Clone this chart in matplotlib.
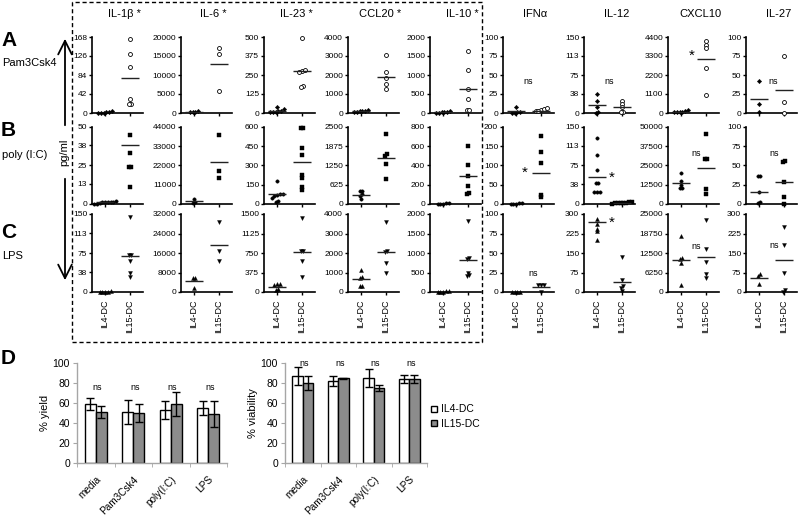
import numpy as np
import matplotlib.pyplot as plt
from matplotlib.patches import Rectangle, FancyArrowPatch
from matplotlib.lines import Line2D

plt.rcParams['font.family'] = ['Liberation Sans', 'DejaVu Sans']

cytokines = ['IL-1β *', 'IL-6 *', 'IL-23 *', 'CCL20 *', 'IL-10 *', 'IFNα', 'IL-12', 'CXCL10', 'IL-27']
groups = ['IL4-DC', 'IL15-DC']
stimuli = ['Pam3Csk4', 'poly (I:C)', 'LPS']

# row A - Pam3Csk4
a_ticks = [[0, 42, 84, 126, 168], [0, 5000, 10000, 15000, 20000], [0, 125, 250, 375, 500],
           [0, 1000, 2000, 3000, 4000], [0, 500, 1000, 1500, 2000], [0, 25, 50, 75, 100],
           [0, 38, 75, 113, 150], [0, 1100, 2200, 3300, 4400], [0, 25, 50, 75, 100]]
a_il4 = [[2, 0, 3, 1, 4, 1], [500, 300, 200, 300], [25, 40, 12, 8, 5, 5, 10], [150, 100, 50, 60, 80, 100],
         [20, 10, 30, 50, 20, 10], [8, 1, 0, 0, 1], [38, 23, 12, 0, 1], [150, 100, 50, 50, 30, 40], [42, 12, 1]]
a_il15 = [[163, 131, 101, 31, 20, 20], [17100, 15600, 5800], [493, 275, 267, 280, 180, 170],
          [3040, 2140, 1860, 1550, 1240], [1640, 1140, 630, 370, 70, 90], [4, 3, 3, 5, 7],
          [24, 18, 12, 2, 1], [4150, 3950, 3750, 2600, 1020], [75, 14, 0]]
a_line4 = [1, 300, 11, 90, 20, 2, 15, 70, 19]
a_line15 = [78, 12800, 278, 1910, 640, 3, 11, 3130, 30]

# row B - poly (I:C)
b_ticks = [[0, 13, 25, 38, 50], [0, 11000, 22000, 33000, 44000], [0, 150, 300, 450, 600],
           [0, 625, 1250, 1875, 2500], [0, 200, 400, 600, 800], [0, 50, 100, 150, 200],
           [0, 38, 75, 113, 150], [0, 12500, 25000, 37500, 50000], [0, 25, 50, 75, 100]]
b_il4 = [[2, 1.5, 1, 0.5, 0, 0, 1, 1.5, 1], [2600, 800, 1000], [178, 80, 72, 78, 60, 48, 26, 12],
         [420, 420, 310, 260, 150], [5, 10, 0, 8, 3], [2, 0, 1, 3, 0], [129, 95, 66, 41, 41, 23, 23, 23],
         [20000, 15000, 12500, 10500, 10500], [36, 36, 16, 2, 1]]
b_il15 = [[45, 33, 24, 24, 11], [39600, 18800, 14600], [592, 592, 440, 380, 225, 204, 134, 109],
          [2260, 1620, 1560, 1290, 800], [600, 410, 288, 182, 112, 105], [176, 135, 107, 24, 18],
          [3, 2, 1, 0, 2, 1, 3, 2], [45700, 29500, 28900, 9700, 6250], [56, 55, 29, 9.5, 0]]
b_line4 = [1, 1700, 75, 290, 4, 1, 53, 13400, 16]
b_line15 = [38, 24100, 328, 1500, 288, 80, 1, 23700, 28]

# row C - LPS
c_ticks = [[0, 38, 75, 113, 150], [0, 8000, 16000, 24000, 32000], [0, 375, 750, 1125, 1500],
           [0, 1000, 2000, 3000, 4000], [0, 500, 1000, 1500, 2000], [0, 25, 50, 75, 100],
           [0, 75, 150, 225, 300], [0, 6250, 12500, 18750, 25000], [0, 75, 150, 225, 300]]
c_il4 = [[0, 0, 0, 1, 0], [5900, 5600, 1700], [150, 145, 130, 35, 50], [1150, 750, 700, 320, 320],
         [20, 10, 0, 30, 10], [0, 0, 0, 0], [282, 262, 242, 233, 201], [18000, 10800, 10600, 9300, 2200],
         [68, 62, 29]]
c_il15 = [[145, 72, 72, 59, 37, 29], [28900, 16800, 12600], [1420, 786, 780, 603, 288],
          [3580, 2100, 2040, 1470, 1000], [1810, 865, 847, 498, 437, 410], [9, 9, 9, 0],
          [135, 47, 22, 15, 3], [23200, 13900, 9600, 5800, 4500], [250, 180, 75, 7, 0]]
c_line4 = [0, 4470, 96, 680, 10, 0, 268, 10300, 52]
c_line15 = [69, 19100, 770, 2040, 830, 6, 37, 11200, 125]

# significance marks (row, column, text, x, y)
notes = [(0, 5, 'ns', 0.5, 42), (0, 6, 'ns', 0.5, 62), (0, 7, '*', 0.42, 3300), (0, 8, 'ns', 0.55, 41),
         (1, 5, '*', 0.35, 80), (1, 6, '*', 0.58, 52), (1, 7, 'ns', 0.6, 33000), (1, 8, 'ns', 0.6, 66),
         (2, 5, 'ns', 0.68, 24), (2, 6, '*', 0.58, 266), (2, 7, 'ns', 0.62, 14700), (2, 8, 'ns', 0.6, 180)]

# panel D
conditions = ['media', 'Pam3Csk4', 'poly(I:C)', 'LPS']
yield_il4 = [59, 51, 53, 55]
yield_il4_err = [6, 12, 9, 7]
yield_il15 = [51, 50, 59, 49]
yield_il15_err = [6, 9, 12, 13]
viab_il4 = [87, 82, 85, 84]
viab_il4_err = [9, 5, 9, 4]
viab_il15 = [80, 85, 75, 84]
viab_il15_err = [7, 0.5, 3, 4]

W, H = 800, 520
fig = plt.figure(figsize=(8, 5.2), dpi=100)


def fx(px):
    return px / W


def fy(py):
    return 1 - py / H


def spread(vals, ymax, step=0.11):
    vals = np.asarray(vals, float)
    order = np.argsort(vals)
    xs = np.zeros(len(vals))
    thr = 0.03 * ymax
    clusters = []
    cur = [order[0]]
    for i in order[1:]:
        if vals[i] - vals[cur[-1]] < thr:
            cur.append(i)
        else:
            clusters.append(cur)
            cur = [i]
    clusters.append(cur)
    for cl in clusters:
        n = len(cl)
        for k, i in enumerate(cl):
            xs[i] = (k - (n - 1) / 2) * step
    return xs


lefts = [92, 181, 264, 348, 430, 503, 584, 668, 746]
aw = 51
rows_px = [(37, 113), (127, 204), (214, 292)]
row_data = [(a_ticks, a_il4, a_il15, a_line4, a_line15),
            (b_ticks, b_il4, b_il15, b_line4, b_line15),
            (c_ticks, c_il4, c_il15, c_line4, c_line15)]
# marker style per row: (il4 marker, il4 fill, il15 marker, il15 fill)
styles = [('D', 'k', 'o', 'white'), ('o', 'k', 's', 'k'), ('^', 'k', 'v', 'k')]
sizes = [(5, 8), (6, 7), (8, 8)]

axes = {}
for r in range(3):
    top, zero = rows_px[r]
    ticks, il4, il15, line4, line15 = row_data[r]
    for c in range(9):
        ax = fig.add_axes([fx(lefts[c]), fy(zero), fx(aw), (zero - top) / H])
        axes[(r, c)] = ax
        ymax = ticks[c][-1]
        for pos, vals, ln, (mk, fc), sz in [(0, il4[c], line4[c], styles[r][0:2], sizes[r][0]),
                                            (1, il15[c], line15[c], styles[r][2:4], sizes[r][1])]:
            xs = pos + spread(vals, ymax)
            ax.scatter(xs, vals, marker=mk, s=sz, facecolor=fc, edgecolor='k',
                       linewidth=0.6 if fc == 'white' else 0.3, clip_on=False, zorder=3)
            ax.hlines(ln, pos - 0.36, pos + 0.36, color='#222222', lw=1.0, zorder=4)
        ax.set_xlim(-0.52, 1.52)
        ax.set_ylim(0, ymax)
        ax.set_yticks(ticks[c])
        ax.set_xticks([0, 1])
        if r == 2:
            ax.set_xticklabels(groups, rotation=90, fontsize=6.5)
        else:
            ax.set_xticklabels([])
        ax.tick_params(axis='y', labelsize=6, length=2.5, width=1, pad=1)
        ax.tick_params(axis='x', length=2.5, width=1, pad=3)
        for s in ['top', 'right']:
            ax.spines[s].set_visible(False)
        for s in ['left', 'bottom']:
            ax.spines[s].set_linewidth(1.2)
        if r == 0:
            fig.text(fx(lefts[c] + aw / 2 + 7), fy(14), cytokines[c], ha='center', va='center', fontsize=8)

for r, c, txt, x, y in notes:
    ax = axes[(r, c)]
    if txt == '*':
        ax.text(x, y, txt, ha='center', va='center', fontsize=11)
    else:
        ax.text(x, y, txt, ha='center', va='center', fontsize=6.5)

# dashed box round the significant cytokines
fig.add_artist(Rectangle((fx(72), fy(342)), fx(482 - 72), (342 - 2) / H, transform=fig.transFigure,
                         fill=False, ls=(0, (3, 2)), lw=1, ec='k'))

# row labels
for lab, name, ly, ny in [('A', stimuli[0], 40, 63), ('B', stimuli[1], 131, 155), ('C', stimuli[2], 232, 256)]:
    fig.text(fx(1), fy(ly), lab, fontsize=15, fontweight='bold', va='center', ha='left')
    fig.text(fx(2), fy(ny), name, fontsize=8, va='center', ha='left')

# pg/ml arrow
fig.add_artist(FancyArrowPatch((fx(65), fy(128)), (fx(65), fy(36)), transform=fig.transFigure,
                               arrowstyle='->,head_width=0.35,head_length=0.7', mutation_scale=14, lw=1.3, color='k'))
fig.add_artist(FancyArrowPatch((fx(65), fy(176)), (fx(65), fy(283)), transform=fig.transFigure,
                               arrowstyle='->,head_width=0.35,head_length=0.7', mutation_scale=14, lw=1.3, color='k'))
fig.text(fx(64), fy(152), 'pg/ml', rotation=90, fontsize=8, ha='center', va='center')

# panel D
fig.text(fx(1), fy(359), 'D', fontsize=15, fontweight='bold', va='center', ha='left')
x = np.arange(len(conditions))
bw = 0.29
for left, wd, v4, e4, v15, e15, ylab, nsy in [(77, 150, yield_il4, yield_il4_err, yield_il15, yield_il15_err, '% yield', 76),
                                              (285, 142, viab_il4, viab_il4_err, viab_il15, viab_il15_err, '% viability', 100)]:
    ax = fig.add_axes([fx(left), fy(463), fx(wd), 100 / H])
    ax.bar(x - bw / 2, v4, bw, yerr=e4, color='white', edgecolor='k', lw=1,
           error_kw=dict(ecolor='k', elinewidth=1, capsize=3, capthick=1), label='IL4-DC')
    ax.bar(x + bw / 2, v15, bw, yerr=e15, color='#8c8c8c', edgecolor='k', lw=1,
           error_kw=dict(ecolor='k', elinewidth=1, capsize=3, capthick=1), label='IL15-DC')
    for xi in x:
        ax.text(xi + 0.04, nsy, 'ns', ha='center', va='center', fontsize=6.5, clip_on=False)
    ax.set_xlim(-0.5, 3.5)
    ax.set_ylim(0, 100)
    ax.set_yticks([0, 20, 40, 60, 80, 100])
    ax.set_xticks(x)
    ax.set_xticklabels(conditions, rotation=45, ha='right', rotation_mode='anchor', fontsize=7.2)
    ax.set_xticks(np.arange(-0.5, 4, 1), minor=True)
    ax.tick_params(axis='x', which='major', length=0, pad=8)
    ax.tick_params(axis='x', which='minor', length=3, color='#a6a6a6')
    ax.tick_params(axis='y', labelsize=7.5, length=3, color='#a6a6a6', pad=2)
    ax.set_ylabel(ylab, fontsize=8, labelpad=2)
    for s in ['top', 'right']:
        ax.spines[s].set_visible(False)
    for s in ['left', 'bottom']:
        ax.spines[s].set_color('#a6a6a6')
        ax.spines[s].set_linewidth(1)

handles = [Line2D([], [], ls='none', marker='s', markersize=5, markerfacecolor='white', markeredgecolor='k', mew=1),
           Line2D([], [], ls='none', marker='s', markersize=5, markerfacecolor='#8c8c8c', markeredgecolor='k', mew=1)]
fig.legend(handles, groups, loc='upper left', bbox_to_anchor=(fx(426), fy(399)), frameon=False,
           fontsize=7.5, handlelength=0.6, handletextpad=0.3, labelspacing=0.45, borderpad=0)

fig.savefig('out.png', dpi=100)
